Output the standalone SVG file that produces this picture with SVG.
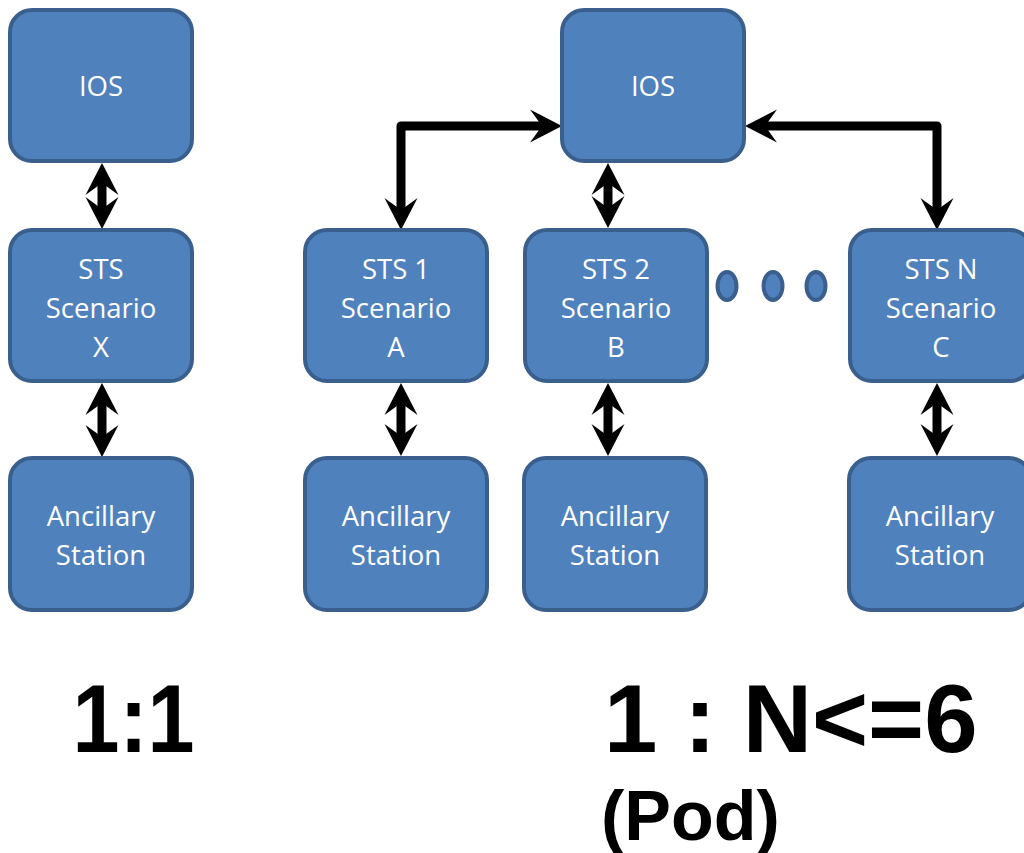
<svg xmlns="http://www.w3.org/2000/svg" width="1024" height="853" viewBox="0 0 1024 853">
<style>
.box{fill:#4f81bd;stroke:#3a5f8d;stroke-width:4}
.dot{fill:#4f81bd;stroke:#3a5f8d;stroke-width:4}
.lbl{font-family:"Open Sans","Liberation Sans",sans-serif;font-size:27.5px;fill:#ffffff;text-anchor:middle}
.big{font-family:"Liberation Sans",Arial,sans-serif;font-weight:bold;fill:#000000}
.con{fill:none;stroke:#000000;stroke-width:9;stroke-linejoin:round;marker-start:url(#ah);marker-end:url(#ah)}
</style>
<defs>
<marker id="ah" markerUnits="userSpaceOnUse" viewBox="0 -17 32 34" refX="20" refY="0" markerWidth="32" markerHeight="34" orient="auto-start-reverse">
<path d="M32,0 L0,-16.5 L12,0 L0,16.5 Z" fill="#000000"/>
</marker>
</defs>
<rect width="1024" height="853" fill="#ffffff"/>
<g id="connectors">
<path class="con" d="M102,175 L102,217"/>
<path class="con" d="M102,395 L102,445"/>
<path class="con" d="M401,218 L401,126 L550,126"/>
<path class="con" d="M757,126 L937,126 L937,218"/>
<path class="con" d="M608,175 L608,216"/>
<path class="con" d="M401,395 L401,444"/>
<path class="con" d="M608,395 L608,444"/>
<path class="con" d="M937,395 L937,444"/>
</g>
<g id="ios-left"><rect class="box" x="10" y="10" width="182" height="151" rx="22"/><text class="lbl" x="101" y="96">IOS</text></g>
<g id="sts-x"><rect class="box" x="10" y="230" width="182" height="151" rx="22"/><text class="lbl" x="101" y="279">STS</text><text class="lbl" x="101" y="318">Scenario</text><text class="lbl" x="101" y="357">X</text></g>
<g id="anc-left"><rect class="box" x="10" y="458" width="182" height="152" rx="22"/><text class="lbl" x="101" y="526">Ancillary</text><text class="lbl" x="101" y="565">Station</text></g>
<g id="ios-right"><rect class="box" x="562" y="10" width="182" height="151" rx="22"/><text class="lbl" x="653" y="96">IOS</text></g>
<g id="sts-1"><rect class="box" x="305" y="230" width="182" height="151" rx="22"/><text class="lbl" x="396" y="279">STS 1</text><text class="lbl" x="396" y="318">Scenario</text><text class="lbl" x="396" y="357">A</text></g>
<g id="sts-2"><rect class="box" x="525" y="230" width="182" height="151" rx="22"/><text class="lbl" x="616" y="279">STS 2</text><text class="lbl" x="616" y="318">Scenario</text><text class="lbl" x="616" y="357">B</text></g>
<g id="sts-n"><rect class="box" x="850" y="230" width="182" height="151" rx="22"/><text class="lbl" x="941" y="279">STS N</text><text class="lbl" x="941" y="318">Scenario</text><text class="lbl" x="941" y="357">C</text></g>
<g id="anc-1"><rect class="box" x="305" y="458" width="182" height="152" rx="22"/><text class="lbl" x="396" y="526">Ancillary</text><text class="lbl" x="396" y="565">Station</text></g>
<g id="anc-2"><rect class="box" x="524" y="458" width="182" height="152" rx="22"/><text class="lbl" x="615" y="526">Ancillary</text><text class="lbl" x="615" y="565">Station</text></g>
<g id="anc-n"><rect class="box" x="849" y="458" width="182" height="152" rx="22"/><text class="lbl" x="940" y="526">Ancillary</text><text class="lbl" x="940" y="565">Station</text></g>
<g id="dots">
<ellipse class="dot" cx="727" cy="286" rx="9.5" ry="14"/>
<ellipse class="dot" cx="773" cy="286" rx="9.5" ry="14"/>
<ellipse class="dot" cx="816" cy="286" rx="9.5" ry="14"/>
</g>
<g id="labels">
<text class="big" transform="translate(72.5,752) scale(0.88,1)" font-size="96">1:1</text>
<text class="big" x="604" y="752" font-size="96">1 : N&lt;=6</text>
<text class="big" x="601" y="840" font-size="70">(Pod)</text>
</g>
</svg>
